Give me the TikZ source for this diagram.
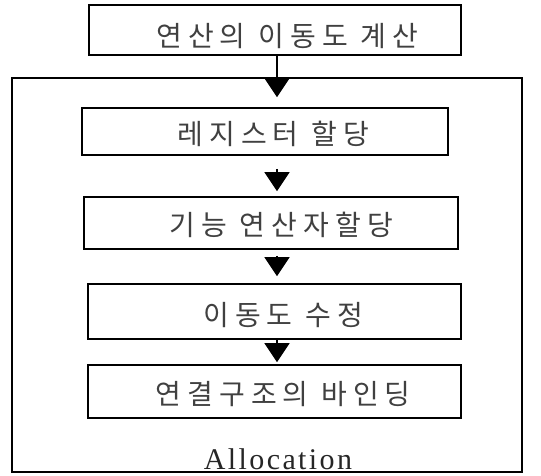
\documentclass[tikz,border=0pt]{standalone}
\usepackage{fontspec}
\newfontfamily\kor[LetterSpace=22]{Noto Sans CJK KR}
\newfontfamily\lat[LetterSpace=8]{Liberation Serif}
\usetikzlibrary{arrows.meta}
\begin{document}
\begin{tikzpicture}[x=1pt,y=-1pt,
  box/.style={draw,line width=1.6pt,inner sep=0pt},
  lbl/.style={font=\kor\fontsize{28}{28}\selectfont,text=black!75,inner sep=0pt,anchor=center},
  arr/.style={line width=1.6pt,-{Triangle[width=25pt,length=19pt]}}]
\useasboundingbox (0,0) rectangle (541,476);
\coordinate (axis) at (277,0);
% outer allocation frame
\node[box,minimum width=510pt,minimum height=394pt] (outer) at (267,275) {};
\node[font=\lat\fontsize{30}{30}\selectfont,text=black!85,inner sep=0pt] (alloc) at (278,459) {Allocation};
% boxes
\node[box,minimum width=372pt,minimum height=50pt] (b1) at (275,30) {};
\node[box,minimum width=366pt,minimum height=47pt] (b2) at (265,131.5) {};
\node[box,minimum width=374pt,minimum height=52pt] (b3) at (271,223) {};
\node[box,minimum width=373pt,minimum height=55pt] (b4) at (274.5,311.5) {};
\node[box,minimum width=373pt,minimum height=53pt] (b5) at (274.5,391.5) {};
% texts
\node[lbl] (t1) at (287,36) {연산의 이동도 계산};
\node[lbl] (t2) at (273,134) {레지스터 할당};
\node[lbl] (t3) at (281,225) {기능 연산자할당};
\node[lbl] (t4) at (283,315) {이동도 수정};
\node[lbl] (t5) at (283,394) {연결구조의 바인딩};
% arrows
\draw[arr,shorten >=10pt] (b1.south -| axis) -- (b2.north -| axis);
\draw[arr,shorten <=13pt,shorten >=5pt] (b2.south -| axis) -- (b3.north -| axis);
\draw[arr,shorten <=6pt,shorten >=7pt] (b3.south -| axis) -- (b4.north -| axis);
\draw[arr,shorten >=2pt] (b4.south -| axis) -- (b5.north -| axis);
\end{tikzpicture}
\end{document}
